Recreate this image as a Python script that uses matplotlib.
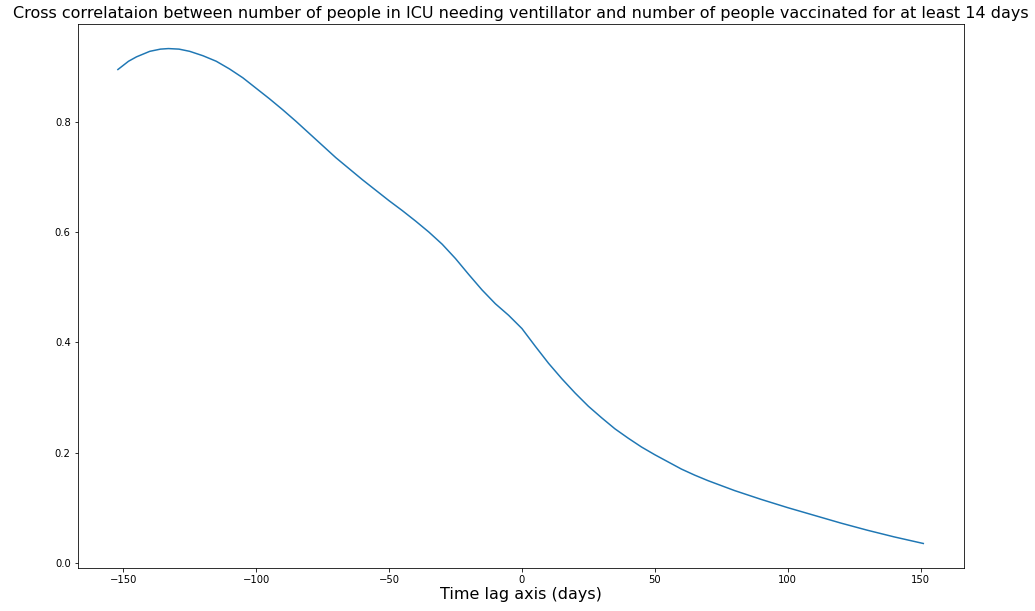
import matplotlib.pyplot as plt

lags = [-152, -148, -145, -140, -136, -133, -129, -125, -120, -115, -110, -105, -100, -95,
        -90, -85, -80, -75, -70, -65, -60, -55, -50, -45, -40, -35, -30, -25, -20, -15,
        -10, -5, 0, 5, 10, 15, 20, 25, 30, 35, 40, 45, 50, 55, 60, 65, 70, 75, 80, 90,
        100, 110, 120, 130, 140, 151]
corr = [0.895, 0.910, 0.918, 0.928, 0.932, 0.933, 0.932, 0.928, 0.920, 0.910, 0.896,
        0.880, 0.861, 0.842, 0.822, 0.801, 0.779, 0.757, 0.735, 0.715, 0.695, 0.676,
        0.657, 0.639, 0.620, 0.600, 0.578, 0.552, 0.523, 0.495, 0.470, 0.449, 0.425,
        0.393, 0.362, 0.334, 0.308, 0.284, 0.263, 0.243, 0.226, 0.210, 0.196, 0.183,
        0.170, 0.159, 0.149, 0.140, 0.131, 0.115, 0.100, 0.086, 0.072, 0.059, 0.047,
        0.035]

fig = plt.figure(figsize=(1035 / 72, 611 / 72), dpi=72)
ax = fig.add_axes([0.075, 0.070, 0.856, 0.891])
ax.plot(lags, corr, color='#1f77b4')
ax.set_title('Cross correlataion between number of people in ICU needing ventillator and number of people vaccinated for at least 14 days',
             fontsize=16)
ax.set_xlabel('Time lag axis (days)', fontsize=16, labelpad=2)
fig.savefig('out.png', dpi=72, facecolor='white')
